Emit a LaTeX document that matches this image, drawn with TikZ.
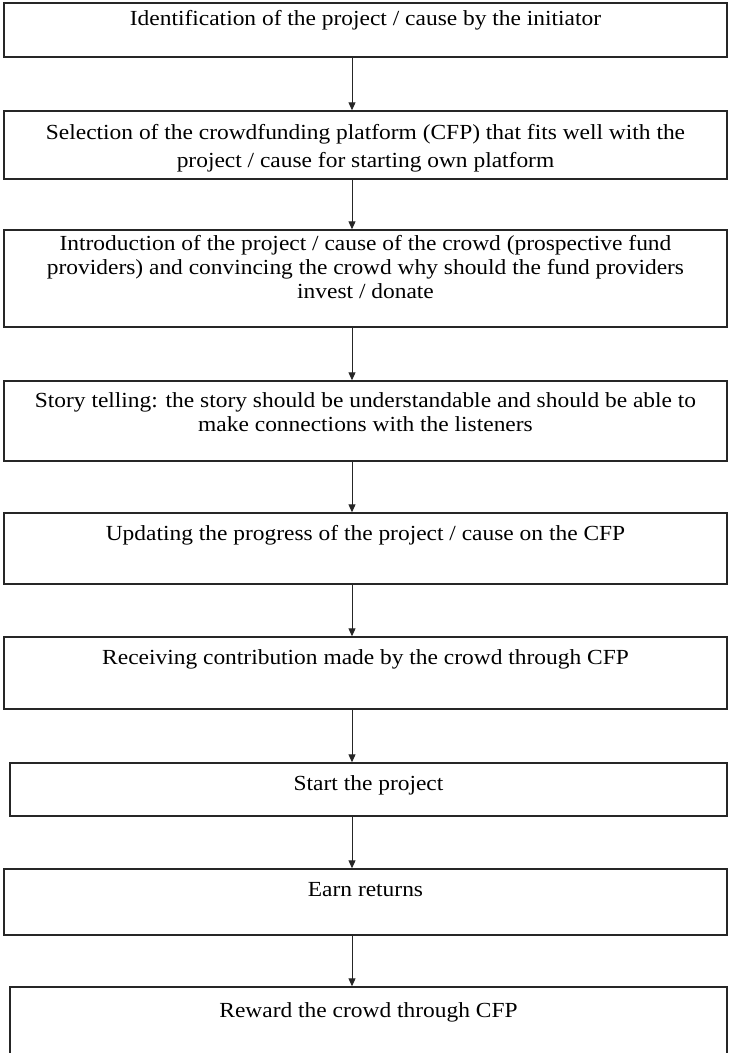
\documentclass[tikz,border=0pt]{standalone}
\usepackage{fontspec}
\setmainfont{Liberation Serif}[FakeStretch=1.09]
\usetikzlibrary{arrows.meta}
\begin{document}
\begin{tikzpicture}[x=1pt,y=-1pt,
  stepbox/.style={draw=black!85, line width=1.4pt, rectangle, inner sep=0pt},
  txt/.style={anchor=north, inner sep=0pt, align=center, font=\fontsize{21.5}{24}\selectfont, text=black},
  arr/.style={draw=black!85, line width=1pt, -{Triangle[length=8pt,width=7pt]}}]
\useasboundingbox (0,0) rectangle (729,1053);
\clip (0,0) rectangle (729,1053);
\fill[white] (0,0) rectangle (729,1053);
\coordinate (ax) at (352,0);
% boxes
\node[stepbox, minimum width=723pt, minimum height=54pt] (b1) at (365.5,30) {};
\node[stepbox, minimum width=723pt, minimum height=68pt] (b2) at (365.5,145) {};
\node[stepbox, minimum width=723pt, minimum height=97pt] (b3) at (365.5,278.5) {};
\node[stepbox, minimum width=723pt, minimum height=80pt] (b4) at (365.5,421) {};
\node[stepbox, minimum width=723pt, minimum height=71pt] (b5) at (365.5,548.5) {};
\node[stepbox, minimum width=723pt, minimum height=72pt] (b6) at (365.5,673) {};
\node[stepbox, minimum width=717pt, minimum height=53pt] (b7) at (368.5,789.5) {};
\node[stepbox, minimum width=723pt, minimum height=66pt] (b8) at (365.5,902) {};
\node[stepbox, minimum width=717pt, minimum height=83pt] (b9) at (368.5,1028.5) {};
% texts
\node[txt] (t1) at (365.5,10) {Identification of the project / cause by the initiator};
\node[txt, font=\fontsize{21.5}{28}\selectfont] (t2) at (365.5,124) {Selection of the crowdfunding platform (CFP) that fits well with the\\project / cause for starting own platform};
\node[txt] (t3) at (365.5,235) {Introduction of the project / cause of the crowd (prospective fund\\providers) and convincing the crowd why should the fund providers\\invest / donate};
\node[txt] (t4) at (365.5,392) {Story telling: the story should be understandable and should be able to\\make connections with the listeners};
\node[txt] (t5) at (365.5,525) {Updating the progress of the project / cause on the CFP};
\node[txt] (t6) at (365.5,649) {Receiving contribution made by the crowd through CFP};
\node[txt] (t7) at (368.5,775) {Start the project};
\node[txt] (t8) at (365.5,882) {Earn returns};
\node[txt] (t9) at (368.5,1002) {Reward the crowd through CFP};
% arrows
\draw[arr] (b1.south -| ax) -- (b2.north -| ax);
\draw[arr] (b2.south -| ax) -- (b3.north -| ax);
\draw[arr] (b3.south -| ax) -- (b4.north -| ax);
\draw[arr] (b4.south -| ax) -- (b5.north -| ax);
\draw[arr] (b5.south -| ax) -- (b6.north -| ax);
\draw[arr] (b6.south -| ax) -- (b7.north -| ax);
\draw[arr] (b7.south -| ax) -- (b8.north -| ax);
\draw[arr] (b8.south -| ax) -- (b9.north -| ax);
\end{tikzpicture}
\end{document}
